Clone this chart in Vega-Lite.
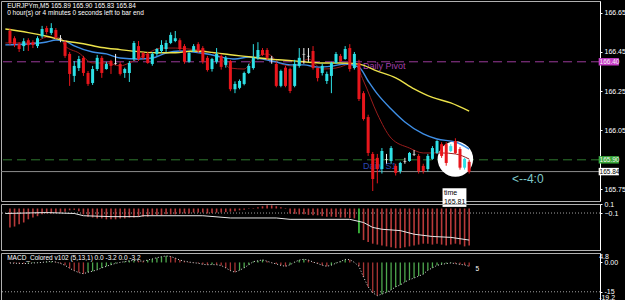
{
"$schema": "https://vega.github.io/schema/vega-lite/v6.json",
"background": "black",
"padding": 0,
"spacing": 3,
"bounds": "flush",
"config": {
  "view": {"stroke": "#b0b0b0", "strokeWidth": 1},
  "axis": {"labelColor": "white", "labelFont": "Liberation Sans", "labelFontSize": 7, "domainColor": "white", "tickColor": "white", "tickSize": 2, "labelPadding": 2, "grid": false},
  "text": {"font": "Liberation Sans"}
},
"datasets": {
  "candles": [
    {"i":0,"o":166.557,"h":166.57,"l":166.485,"c":166.496},
    {"i":1,"o":166.52,"h":166.53,"l":166.475,"c":166.49},
    {"i":2,"o":166.49,"h":166.50,"l":166.45,"c":166.465},
    {"i":3,"o":166.48,"h":166.52,"l":166.455,"c":166.505},
    {"i":4,"o":166.51,"h":166.52,"l":166.455,"c":166.485},
    {"i":5,"o":166.50,"h":166.51,"l":166.47,"c":166.485},
    {"i":6,"o":166.48,"h":166.53,"l":166.47,"c":166.52},
    {"i":7,"o":166.53,"h":166.583,"l":166.52,"c":166.567},
    {"i":8,"o":166.572,"h":166.583,"l":166.54,"c":166.552},
    {"i":9,"o":166.547,"h":166.597,"l":166.537,"c":166.572},
    {"i":10,"o":166.562,"h":166.572,"l":166.516,"c":166.526},
    {"i":11,"o":166.52,"h":166.536,"l":166.50,"c":166.517},
    {"i":12,"o":166.50,"h":166.51,"l":166.42,"c":166.43},
    {"i":13,"o":166.44,"h":166.45,"l":166.277,"c":166.338},
    {"i":14,"o":166.328,"h":166.404,"l":166.297,"c":166.379},
    {"i":15,"o":166.368,"h":166.43,"l":166.353,"c":166.414},
    {"i":16,"o":166.42,"h":166.43,"l":166.328,"c":166.343},
    {"i":17,"o":166.343,"h":166.353,"l":166.277,"c":166.287},
    {"i":18,"o":166.292,"h":166.379,"l":166.282,"c":166.363},
    {"i":19,"o":166.363,"h":166.435,"l":166.353,"c":166.42},
    {"i":20,"o":166.42,"h":166.43,"l":166.318,"c":166.343},
    {"i":21,"o":166.363,"h":166.40,"l":166.36,"c":166.389},
    {"i":22,"o":166.404,"h":166.41,"l":166.338,"c":166.379},
    {"i":23,"o":166.39,"h":166.44,"l":166.385,"c":166.393},
    {"i":24,"o":166.389,"h":166.40,"l":166.33,"c":166.338},
    {"i":25,"o":166.343,"h":166.37,"l":166.318,"c":166.363},
    {"i":26,"o":166.343,"h":166.404,"l":166.297,"c":166.394},
    {"i":27,"o":166.414,"h":166.506,"l":166.404,"c":166.496},
    {"i":28,"o":166.48,"h":166.506,"l":166.404,"c":166.414},
    {"i":29,"o":166.445,"h":166.45,"l":166.41,"c":166.42},
    {"i":30,"o":166.44,"h":166.45,"l":166.39,"c":166.394},
    {"i":31,"o":166.389,"h":166.45,"l":166.38,"c":166.44},
    {"i":32,"o":166.44,"h":166.47,"l":166.43,"c":166.465},
    {"i":33,"o":166.455,"h":166.51,"l":166.445,"c":166.486},
    {"i":34,"o":166.465,"h":166.51,"l":166.45,"c":166.496},
    {"i":35,"o":166.496,"h":166.55,"l":166.49,"c":166.537},
    {"i":36,"o":166.506,"h":166.557,"l":166.50,"c":166.52},
    {"i":37,"o":166.51,"h":166.52,"l":166.455,"c":166.465},
    {"i":38,"o":166.48,"h":166.49,"l":166.39,"c":166.40},
    {"i":39,"o":166.40,"h":166.45,"l":166.395,"c":166.445},
    {"i":40,"o":166.455,"h":166.49,"l":166.45,"c":166.48},
    {"i":41,"o":166.49,"h":166.50,"l":166.445,"c":166.455},
    {"i":42,"o":166.47,"h":166.48,"l":166.39,"c":166.40},
    {"i":43,"o":166.42,"h":166.43,"l":166.35,"c":166.358},
    {"i":44,"o":166.363,"h":166.42,"l":166.35,"c":166.414},
    {"i":45,"o":166.40,"h":166.47,"l":166.39,"c":166.44},
    {"i":46,"o":166.43,"h":166.44,"l":166.36,"c":166.374},
    {"i":47,"o":166.384,"h":166.43,"l":166.37,"c":166.42},
    {"i":48,"o":166.404,"h":166.41,"l":166.25,"c":166.26},
    {"i":49,"o":166.26,"h":166.30,"l":166.24,"c":166.287},
    {"i":50,"o":166.267,"h":166.31,"l":166.26,"c":166.302},
    {"i":51,"o":166.287,"h":166.35,"l":166.28,"c":166.343},
    {"i":52,"o":166.343,"h":166.39,"l":166.338,"c":166.379},
    {"i":53,"o":166.368,"h":166.49,"l":166.36,"c":166.42},
    {"i":54,"o":166.42,"h":166.50,"l":166.41,"c":166.46},
    {"i":55,"o":166.46,"h":166.47,"l":166.43,"c":166.435},
    {"i":56,"o":166.46,"h":166.47,"l":166.41,"c":166.42},
    {"i":57,"o":166.42,"h":166.43,"l":166.39,"c":166.417},
    {"i":58,"o":166.389,"h":166.40,"l":166.27,"c":166.277},
    {"i":59,"o":166.277,"h":166.36,"l":166.27,"c":166.353},
    {"i":60,"o":166.37,"h":166.38,"l":166.27,"c":166.277},
    {"i":61,"o":166.363,"h":166.37,"l":166.24,"c":166.251},
    {"i":62,"o":166.277,"h":166.41,"l":166.27,"c":166.389},
    {"i":63,"o":166.379,"h":166.47,"l":166.37,"c":166.42},
    {"i":64,"o":166.44,"h":166.47,"l":166.39,"c":166.437},
    {"i":65,"o":166.43,"h":166.47,"l":166.40,"c":166.427},
    {"i":66,"o":166.455,"h":166.48,"l":166.36,"c":166.368},
    {"i":67,"o":166.368,"h":166.37,"l":166.30,"c":166.317},
    {"i":68,"o":166.343,"h":166.39,"l":166.33,"c":166.379},
    {"i":69,"o":166.302,"h":166.35,"l":166.287,"c":166.338},
    {"i":70,"o":166.328,"h":166.40,"l":166.24,"c":166.394},
    {"i":71,"o":166.394,"h":166.45,"l":166.39,"c":166.44},
    {"i":72,"o":166.43,"h":166.44,"l":166.40,"c":166.404},
    {"i":73,"o":166.414,"h":166.48,"l":166.41,"c":166.465},
    {"i":74,"o":166.47,"h":166.49,"l":166.35,"c":166.363},
    {"i":75,"o":166.368,"h":166.45,"l":166.36,"c":166.44},
    {"i":76,"o":166.394,"h":166.41,"l":166.20,"c":166.21},
    {"i":77,"o":166.24,"h":166.25,"l":166.10,"c":166.108},
    {"i":78,"o":166.118,"h":166.13,"l":165.92,"c":165.935},
    {"i":79,"o":165.93,"h":165.94,"l":165.741,"c":165.802},
    {"i":80,"o":165.91,"h":165.93,"l":165.78,"c":165.853},
    {"i":81,"o":165.853,"h":165.96,"l":165.83,"c":165.945},
    {"i":82,"o":165.90,"h":165.93,"l":165.88,"c":165.903},
    {"i":83,"o":165.894,"h":165.97,"l":165.88,"c":165.96},
    {"i":84,"o":165.869,"h":165.88,"l":165.82,"c":165.833},
    {"i":85,"o":165.843,"h":165.89,"l":165.83,"c":165.884},
    {"i":86,"o":165.89,"h":165.91,"l":165.88,"c":165.893},
    {"i":87,"o":165.894,"h":165.94,"l":165.89,"c":165.935},
    {"i":88,"o":165.93,"h":165.95,"l":165.92,"c":165.927},
    {"i":89,"o":165.92,"h":165.93,"l":165.83,"c":165.843},
    {"i":90,"o":165.869,"h":165.88,"l":165.83,"c":165.843},
    {"i":91,"o":165.853,"h":165.93,"l":165.84,"c":165.92},
    {"i":92,"o":165.905,"h":165.97,"l":165.90,"c":165.96},
    {"i":93,"o":165.935,"h":166.00,"l":165.93,"c":165.996},
    {"i":94,"o":165.98,"h":165.99,"l":165.91,"c":165.92},
    {"i":95,"o":165.98,"h":165.99,"l":165.87,"c":165.884},
    {"i":96,"o":165.945,"h":165.98,"l":165.94,"c":165.97},
    {"i":97,"o":165.996,"h":166.01,"l":165.93,"c":165.935},
    {"i":98,"o":165.955,"h":165.965,"l":165.85,"c":165.86},
    {"i":99,"o":165.86,"h":165.91,"l":165.85,"c":165.905},
    {"i":100,"o":165.89,"h":165.90,"l":165.83,"c":165.84}
  ],
  "ma": [
    {"k":"slow","i":-1,"p":166.567},{"k":"slow","i":4,"p":166.549},{"k":"slow","i":8,"p":166.530},{"k":"slow","i":12,"p":166.506},{"k":"slow","i":16,"p":166.492},{"k":"slow","i":20,"p":166.473},{"k":"slow","i":24,"p":166.462},{"k":"slow","i":28,"p":166.452},{"k":"slow","i":32,"p":166.446},{"k":"slow","i":36,"p":166.446},{"k":"slow","i":40,"p":166.455},{"k":"slow","i":44,"p":166.448},{"k":"slow","i":48,"p":166.436},{"k":"slow","i":52,"p":166.426},{"k":"slow","i":56,"p":166.415},{"k":"slow","i":60,"p":166.408},{"k":"slow","i":64,"p":166.400},{"k":"slow","i":68,"p":166.394},{"k":"slow","i":72,"p":166.394},{"k":"slow","i":76,"p":166.388},{"k":"slow","i":80,"p":166.352},{"k":"slow","i":84,"p":166.318},{"k":"slow","i":88,"p":166.262},{"k":"slow","i":92,"p":166.218},{"k":"slow","i":96,"p":166.190},{"k":"slow","i":100,"p":166.148},
    {"k":"mid","i":-1,"p":166.486},{"k":"mid","i":4,"p":166.491},{"k":"mid","i":8,"p":166.501},{"k":"mid","i":10,"p":166.511},{"k":"mid","i":12,"p":166.506},{"k":"mid","i":14,"p":166.481},{"k":"mid","i":18,"p":166.450},{"k":"mid","i":21,"p":166.440},{"k":"mid","i":24,"p":166.419},{"k":"mid","i":28,"p":166.414},{"k":"mid","i":31,"p":166.419},{"k":"mid","i":34,"p":166.445},{"k":"mid","i":37,"p":166.455},{"k":"mid","i":40,"p":166.450},{"k":"mid","i":43,"p":166.440},{"k":"mid","i":46,"p":166.424},{"k":"mid","i":49,"p":166.414},{"k":"mid","i":52,"p":166.424},{"k":"mid","i":55,"p":166.414},{"k":"mid","i":58,"p":166.399},{"k":"mid","i":61,"p":166.384},{"k":"mid","i":64,"p":166.384},{"k":"mid","i":67,"p":166.373},{"k":"mid","i":70,"p":166.378},{"k":"mid","i":73,"p":166.389},{"k":"mid","i":76,"p":166.373},{"k":"mid","i":78,"p":166.302},{"k":"mid","i":80,"p":166.236},{"k":"mid","i":83,"p":166.159},{"k":"mid","i":86,"p":166.093},{"k":"mid","i":90,"p":166.032},{"k":"mid","i":93,"p":166.006},{"k":"mid","i":97,"p":165.991},{"k":"mid","i":100,"p":165.955},
    {"k":"fast","i":-1,"p":166.496},{"k":"fast","i":5,"p":166.496},{"k":"fast","i":8,"p":166.526},{"k":"fast","i":11,"p":166.521},{"k":"fast","i":12,"p":166.481},{"k":"fast","i":15,"p":166.445},{"k":"fast","i":18,"p":166.394},{"k":"fast","i":21,"p":166.394},{"k":"fast","i":24,"p":166.379},{"k":"fast","i":26,"p":166.394},{"k":"fast","i":29,"p":166.430},{"k":"fast","i":33,"p":166.470},{"k":"fast","i":36,"p":166.470},{"k":"fast","i":39,"p":166.465},{"k":"fast","i":45,"p":166.440},{"k":"fast","i":48,"p":166.368},{"k":"fast","i":51,"p":166.363},{"k":"fast","i":53,"p":166.414},{"k":"fast","i":56,"p":166.440},{"k":"fast","i":59,"p":166.389},{"k":"fast","i":62,"p":166.378},{"k":"fast","i":65,"p":166.414},{"k":"fast","i":68,"p":166.363},{"k":"fast","i":71,"p":166.368},{"k":"fast","i":75,"p":166.394},{"k":"fast","i":77,"p":166.302},{"k":"fast","i":80,"p":166.134},{"k":"fast","i":83,"p":166.011},{"k":"fast","i":87,"p":165.960},{"k":"fast","i":90,"p":165.935},{"k":"fast","i":94,"p":165.935},{"k":"fast","i":97,"p":165.930},{"k":"fast","i":100,"p":165.904}
  ],
  "osc": [
    {"i":0,"v":-0.42},{"i":1,"v":-0.40},{"i":2,"v":-0.35},{"i":3,"v":-0.31},{"i":4,"v":-0.24},{"i":5,"v":-0.20},{"i":6,"v":-0.17},{"i":7,"v":-0.13},{"i":8,"v":-0.11},{"i":9,"v":-0.11},{"i":10,"v":-0.10},{"i":11,"v":-0.09},{"i":12,"v":-0.07},{"i":13,"v":-0.04},{"i":14,"v":-0.03},{"i":15,"v":-0.06},{"i":16,"v":-0.13},{"i":17,"v":-0.18},{"i":18,"v":-0.20},{"i":19,"v":-0.22},{"i":20,"v":-0.22},{"i":21,"v":-0.24},{"i":22,"v":-0.24},{"i":23,"v":-0.24},{"i":24,"v":-0.22},{"i":25,"v":-0.22},{"i":26,"v":-0.20},{"i":27,"v":-0.20},{"i":28,"v":-0.18},{"i":29,"v":-0.18},{"i":30,"v":-0.18},{"i":31,"v":-0.15},{"i":32,"v":-0.15},{"i":33,"v":-0.15},{"i":34,"v":-0.13},{"i":35,"v":-0.13},{"i":36,"v":-0.13},{"i":37,"v":-0.11},{"i":38,"v":-0.11},{"i":39,"v":-0.11},{"i":40,"v":-0.09},{"i":41,"v":-0.09},{"i":42,"v":-0.09},{"i":43,"v":-0.11},{"i":44,"v":-0.10},{"i":45,"v":-0.09},{"i":46,"v":-0.09},{"i":47,"v":-0.08},{"i":48,"v":-0.07},{"i":49,"v":-0.06},{"i":50,"v":-0.04},{"i":51,"v":-0.03},{"i":52,"v":-0.01},{"i":53,"v":0.01},{"i":54,"v":0.03},{"i":55,"v":0.05},{"i":56,"v":0.07},{"i":57,"v":0.07},{"i":58,"v":0.05},{"i":59,"v":0.03},{"i":60,"v":0.01},{"i":61,"v":-0.11},{"i":62,"v":-0.12},{"i":63,"v":-0.13},{"i":64,"v":-0.13},{"i":65,"v":-0.14},{"i":66,"v":-0.15},{"i":67,"v":-0.15},{"i":68,"v":-0.17},{"i":69,"v":-0.18},{"i":70,"v":-0.18},{"i":71,"v":-0.19},{"i":72,"v":-0.20},{"i":73,"v":-0.20},{"i":74,"v":-0.21},{"i":75,"v":-0.22},{"i":76,"v":-0.55,"sig":"buy"},{"i":77,"v":-0.70},{"i":78,"v":-0.74},{"i":79,"v":-0.78},{"i":80,"v":-0.80},{"i":81,"v":-0.82},{"i":82,"v":-0.84},{"i":83,"v":-0.86},{"i":84,"v":-0.88},{"i":85,"v":-0.88},{"i":86,"v":-0.86},{"i":87,"v":-0.84},{"i":88,"v":-0.82},{"i":89,"v":-0.80},{"i":90,"v":-0.78},{"i":91,"v":-0.78},{"i":92,"v":-0.80},{"i":93,"v":-0.78},{"i":94,"v":-0.80},{"i":95,"v":-0.82},{"i":96,"v":-0.80},{"i":97,"v":-0.78},{"i":98,"v":-0.80},{"i":99,"v":-0.84},{"i":100,"v":-0.82}
  ],
  "oscsig": [
    {"i":-1,"v":-0.11},{"i":8,"v":-0.09},{"i":14,"v":-0.11},{"i":16,"v":-0.16},{"i":22,"v":-0.18},{"i":28,"v":-0.18},{"i":29,"v":-0.16},{"i":42,"v":-0.16},{"i":48,"v":-0.21},{"i":58,"v":-0.21},{"i":61,"v":-0.24},{"i":74,"v":-0.24},{"i":77,"v":-0.31},{"i":79,"v":-0.42},{"i":81,"v":-0.46},{"i":85,"v":-0.49},{"i":88,"v":-0.57},{"i":92,"v":-0.62},{"i":96,"v":-0.64},{"i":100,"v":-0.70}
  ],
  "macd": [
    {"i":0,"m":-0.3,"dir":"down"},{"i":1,"m":-0.4,"dir":"down"},{"i":2,"m":-0.5,"dir":"down"},{"i":3,"m":-0.6,"dir":"down"},{"i":4,"m":-0.5,"dir":"up"},{"i":5,"m":-0.3,"dir":"up"},{"i":6,"m":-0.2,"dir":"up"},{"i":7,"m":0.0,"dir":"up"},{"i":8,"m":0.3,"dir":"up"},{"i":9,"m":0.5,"dir":"up"},{"i":10,"m":0.2,"dir":"down"},{"i":11,"m":-0.5,"dir":"down"},{"i":12,"m":-1.5,"dir":"down"},{"i":13,"m":-3.0,"dir":"down"},{"i":14,"m":-4.2,"dir":"down"},{"i":15,"m":-5.2,"dir":"down"},{"i":16,"m":-5.8,"dir":"down"},{"i":17,"m":-5.0,"dir":"up"},{"i":18,"m":-4.5,"dir":"up"},{"i":19,"m":-3.8,"dir":"up"},{"i":20,"m":-2.8,"dir":"up"},{"i":21,"m":-2.0,"dir":"up"},{"i":22,"m":-1.2,"dir":"up"},{"i":23,"m":-0.5,"dir":"up"},{"i":24,"m":0.0,"dir":"up"},{"i":25,"m":0.4,"dir":"up"},{"i":26,"m":0.8,"dir":"up"},{"i":27,"m":1.0,"dir":"up"},{"i":28,"m":0.8,"dir":"down"},{"i":29,"m":0.6,"dir":"down"},{"i":30,"m":1.2,"dir":"up"},{"i":31,"m":1.8,"dir":"up"},{"i":32,"m":2.4,"dir":"up"},{"i":33,"m":2.9,"dir":"up"},{"i":34,"m":3.3,"dir":"up"},{"i":35,"m":3.0,"dir":"down"},{"i":36,"m":2.2,"dir":"down"},{"i":37,"m":1.2,"dir":"down"},{"i":38,"m":0.6,"dir":"down"},{"i":39,"m":0.2,"dir":"down"},{"i":40,"m":-0.2,"dir":"down"},{"i":41,"m":-0.4,"dir":"down"},{"i":42,"m":-1.0,"dir":"down"},{"i":43,"m":-1.2,"dir":"down"},{"i":44,"m":-1.1,"dir":"up"},{"i":45,"m":-1.2,"dir":"down"},{"i":46,"m":-1.6,"dir":"down"},{"i":47,"m":-2.8,"dir":"down"},{"i":48,"m":-4.2,"dir":"down"},{"i":49,"m":-5.0,"dir":"down"},{"i":50,"m":-4.0,"dir":"up"},{"i":51,"m":-2.8,"dir":"up"},{"i":52,"m":-1.2,"dir":"up"},{"i":53,"m":0.4,"dir":"up"},{"i":54,"m":0.8,"dir":"up"},{"i":55,"m":1.3,"dir":"up"},{"i":56,"m":0.6,"dir":"down"},{"i":57,"m":-0.2,"dir":"down"},{"i":58,"m":-0.8,"dir":"down"},{"i":59,"m":-1.5,"dir":"down"},{"i":60,"m":-2.0,"dir":"down"},{"i":61,"m":-1.2,"dir":"up"},{"i":62,"m":0.2,"dir":"up"},{"i":63,"m":1.2,"dir":"up"},{"i":64,"m":1.6,"dir":"up"},{"i":65,"m":1.2,"dir":"down"},{"i":66,"m":0.2,"dir":"down"},{"i":67,"m":-0.6,"dir":"down"},{"i":68,"m":-1.4,"dir":"down"},{"i":69,"m":-2.0,"dir":"down"},{"i":70,"m":-1.4,"dir":"up"},{"i":71,"m":-0.4,"dir":"up"},{"i":72,"m":0.5,"dir":"up"},{"i":73,"m":1.5,"dir":"up"},{"i":74,"m":1.4,"dir":"down"},{"i":75,"m":0.0,"dir":"down"},{"i":76,"m":-2.0,"dir":"down"},{"i":77,"m":-7.5,"dir":"down"},{"i":78,"m":-12.5,"dir":"down"},{"i":79,"m":-15.5,"dir":"down"},{"i":80,"m":-17.0,"dir":"down"},{"i":81,"m":-16.2,"dir":"up"},{"i":82,"m":-15.3,"dir":"up"},{"i":83,"m":-14.0,"dir":"up"},{"i":84,"m":-12.5,"dir":"up"},{"i":85,"m":-11.5,"dir":"up"},{"i":86,"m":-10.0,"dir":"up"},{"i":87,"m":-8.8,"dir":"up"},{"i":88,"m":-8.0,"dir":"up"},{"i":89,"m":-7.0,"dir":"up"},{"i":90,"m":-6.0,"dir":"up"},{"i":91,"m":-4.0,"dir":"up"},{"i":92,"m":-2.8,"dir":"up"},{"i":93,"m":-1.5,"dir":"up"},{"i":94,"m":-1.0,"dir":"up"},{"i":95,"m":-0.6,"dir":"up"},{"i":96,"m":-0.3,"dir":"up"},{"i":97,"m":-0.6,"dir":"down"},{"i":98,"m":-1.0,"dir":"down"},{"i":99,"m":-1.3,"dir":"down"},{"i":100,"m":-2.0,"dir":"down"}
  ]
},
"vconcat": [
  {
    "width": 599, "height": 200,
    "layer": [
      {
        "data": {"values": [{"p": 166.40}]},
        "mark": {"type": "rule", "color": "#9a3a9a", "strokeDash": [9, 5], "strokeWidth": 1},
        "encoding": {"y": {"field": "p", "type": "quantitative", "title": null, "scale": {"domain": [165.69, 166.71], "nice": false, "zero": false},
          "axis": {"orient": "right", "values": [166.65, 166.55, 166.45, 166.35, 166.25, 166.15, 166.05, 165.95, 165.75], "format": ".2f"}}}
      },
      {
        "data": {"values": [{"p": 165.90}]},
        "mark": {"type": "rule", "color": "#2f7a2f", "strokeDash": [9, 5], "strokeWidth": 1},
        "encoding": {"y": {"field": "p", "type": "quantitative", "title": null}}
      },
      {
        "data": {"values": [{"p": 165.84}]},
        "mark": {"type": "rule", "color": "#8c8c8c", "strokeWidth": 1},
        "encoding": {"y": {"field": "p", "type": "quantitative", "title": null}}
      },
      {
        "data": {"values": [{"i": 97, "p": 165.904}]},
        "mark": {"type": "point", "shape": "circle", "filled": true, "color": "white", "opacity": 1, "size": 1260},
        "encoding": {"x": {"field": "i", "type": "quantitative", "scale": {"domain": [-0.86, 127.4], "nice": false, "zero": false}, "axis": null}, "y": {"field": "p", "type": "quantitative", "title": null}}
      },
      {
        "data": {"values": [{"i": 76.9, "p": 166.378, "t": "Daily Pivot"}]},
        "mark": {"type": "text", "align": "left", "baseline": "middle", "fontSize": 9, "color": "#a23fa8"},
        "encoding": {"x": {"field": "i", "type": "quantitative", "axis": null}, "y": {"field": "p", "type": "quantitative", "title": null}, "text": {"field": "t"}}
      },
      {
        "data": {"values": [{"i": 76.9, "p": 165.868, "t": "Daily S1"}]},
        "mark": {"type": "text", "align": "left", "baseline": "middle", "fontSize": 9, "color": "#2a46b0"},
        "encoding": {"x": {"field": "i", "type": "quantitative", "axis": null}, "y": {"field": "p", "type": "quantitative", "title": null}, "text": {"field": "t"}}
      },
      {
        "data": {"name": "ma"},
        "transform": [{"filter": "datum.k == 'fast'"}],
        "mark": {"type": "line", "strokeWidth": 1, "interpolate": "monotone", "color": "#9a1c1c"},
        "encoding": {"x": {"field": "i", "type": "quantitative", "axis": null}, "y": {"field": "p", "type": "quantitative", "title": null}}
      },
      {
        "data": {"name": "ma"},
        "transform": [{"filter": "datum.k == 'mid'"}],
        "mark": {"type": "line", "strokeWidth": 1.4, "interpolate": "monotone", "color": "#3f8fe6"},
        "encoding": {"x": {"field": "i", "type": "quantitative", "axis": null}, "y": {"field": "p", "type": "quantitative", "title": null}}
      },
      {
        "data": {"name": "ma"},
        "transform": [{"filter": "datum.k == 'slow'"}],
        "mark": {"type": "line", "strokeWidth": 1.4, "interpolate": "monotone", "color": "#ece24a"},
        "encoding": {"x": {"field": "i", "type": "quantitative", "axis": null}, "y": {"field": "p", "type": "quantitative", "title": null}}
      },
      {
        "data": {"name": "candles"},
        "mark": {"type": "rule", "strokeWidth": 1},
        "encoding": {"x": {"field": "i", "type": "quantitative", "axis": null}, "y": {"field": "l", "type": "quantitative", "title": null}, "y2": {"field": "h"},
          "color": {"condition": [{"test": "abs(datum.c - datum.o) < 0.004", "value": "#f0f0f0"}, {"test": "datum.c > datum.o", "value": "#2ee0e6"}], "value": "#e8161c"}}
      },
      {
        "data": {"name": "candles"},
        "mark": {"type": "bar", "size": 3},
        "encoding": {"x": {"field": "i", "type": "quantitative", "axis": null}, "y": {"field": "o", "type": "quantitative", "title": null}, "y2": {"field": "c"},
          "color": {"condition": [{"test": "abs(datum.c - datum.o) < 0.004", "value": "#f0f0f0"}, {"test": "datum.c > datum.o", "value": "#2ee0e6"}], "value": "#e8161c"}}
      },
      {
        "data": {"values": [{"i": -0.6, "p": 166.686, "t": "EURJPYm,M5  165.89 165.90 165.83 165.84"}, {"i": -0.6, "p": 166.650, "t": "0 hour(s) or 4 minutes 0 seconds left to bar end"}]},
        "mark": {"type": "text", "align": "left", "baseline": "middle", "fontSize": 6.5, "color": "white"},
        "encoding": {"x": {"field": "i", "type": "quantitative", "axis": null}, "y": {"field": "p", "type": "quantitative", "title": null}, "text": {"field": "t"}}
      },
      {
        "data": {"values": [{"i": 109.3, "p": 165.802, "t": "<--4:0"}]},
        "mark": {"type": "text", "align": "left", "baseline": "middle", "fontSize": 12, "color": "#7fcaca"},
        "encoding": {"x": {"field": "i", "type": "quantitative", "axis": null}, "y": {"field": "p", "type": "quantitative", "title": null}, "text": {"field": "t"}}
      },
      {
        "data": {"values": [{"a": 94.2, "b": 99.4, "p1": 165.755, "p2": 165.66}]},
        "mark": {"type": "rect", "color": "white"},
        "encoding": {"x": {"field": "a", "type": "quantitative", "axis": null}, "x2": {"field": "b"}, "y": {"field": "p1", "type": "quantitative", "title": null}, "y2": {"field": "p2"}}
      },
      {
        "data": {"values": [{"i": 94.5, "p": 165.733, "t": "time"}, {"i": 94.5, "p": 165.687, "t": "165.81"}]},
        "mark": {"type": "text", "align": "left", "baseline": "middle", "fontSize": 7, "color": "black"},
        "encoding": {"x": {"field": "i", "type": "quantitative", "axis": null}, "y": {"field": "p", "type": "quantitative", "title": null}, "text": {"field": "t"}}
      },
      {
        "data": {"values": [{"a": 128.2, "b": 132.6, "p1": 166.419, "p2": 166.381}]},
        "mark": {"type": "rect", "color": "#c83cc8"},
        "encoding": {"x": {"field": "a", "type": "quantitative", "axis": null}, "x2": {"field": "b"}, "y": {"field": "p1", "type": "quantitative", "title": null}, "y2": {"field": "p2"}}
      },
      {
        "data": {"values": [{"a": 128.2, "b": 132.6, "p1": 165.919, "p2": 165.881}]},
        "mark": {"type": "rect", "color": "#3aa83a"},
        "encoding": {"x": {"field": "a", "type": "quantitative", "axis": null}, "x2": {"field": "b"}, "y": {"field": "p1", "type": "quantitative", "title": null}, "y2": {"field": "p2"}}
      },
      {
        "data": {"values": [{"a": 128.2, "b": 132.6, "p1": 165.859, "p2": 165.821}]},
        "mark": {"type": "rect", "color": "#ffffff"},
        "encoding": {"x": {"field": "a", "type": "quantitative", "axis": null}, "x2": {"field": "b"}, "y": {"field": "p1", "type": "quantitative", "title": null}, "y2": {"field": "p2"}}
      },
      {
        "data": {"values": [{"i": 128.4, "p": 166.40, "t": "166.40"}, {"i": 128.4, "p": 165.90, "t": "165.90"}]},
        "mark": {"type": "text", "align": "left", "baseline": "middle", "fontSize": 6.5, "color": "#f4f4f4"},
        "encoding": {"x": {"field": "i", "type": "quantitative", "axis": null}, "y": {"field": "p", "type": "quantitative", "title": null}, "text": {"field": "t"}}
      },
      {
        "data": {"values": [{"i": 128.4, "p": 165.84, "t": "165.84"}]},
        "mark": {"type": "text", "align": "left", "baseline": "middle", "fontSize": 6.5, "color": "#000000"},
        "encoding": {"x": {"field": "i", "type": "quantitative", "axis": null}, "y": {"field": "p", "type": "quantitative", "title": null}, "text": {"field": "t"}}
      }
    ]
  },
  {
    "width": 599, "height": 46,
    "layer": [
      {
        "data": {"values": [{"v": -0.1}]},
        "mark": {"type": "rule", "color": "#a0a0a0", "strokeDash": [1, 2]},
        "encoding": {"y": {"field": "v", "type": "quantitative", "title": null, "scale": {"domain": [-0.92, 0.1], "nice": false, "zero": false},
          "axis": {"orient": "right", "values": [0.1, -0.1], "labelFlush": false}}}
      },
      {
        "data": {"name": "osc"},
        "mark": {"type": "bar", "size": 1.6},
        "encoding": {"x": {"field": "i", "type": "quantitative", "scale": {"domain": [-0.86, 127.4], "nice": false, "zero": false}, "axis": null},
          "y": {"field": "v", "type": "quantitative", "title": null}, "y2": {"datum": 0},
          "color": {"condition": {"test": "datum.sig == 'buy'", "value": "#44d044"}, "value": "#b83a3a"}}
      },
      {
        "data": {"name": "oscsig"},
        "mark": {"type": "line", "color": "#e8e8e8", "strokeWidth": 1},
        "encoding": {"x": {"field": "i", "type": "quantitative", "axis": null}, "y": {"field": "v", "type": "quantitative", "title": null}}
      }
    ]
  },
  {
    "width": 599, "height": 47,
    "layer": [
      {
        "data": {"values": [{"m": -15}]},
        "mark": {"type": "rule", "color": "#a0a0a0", "strokeDash": [1, 2]},
        "encoding": {"y": {"field": "m", "type": "quantitative", "title": null, "scale": {"domain": [-19.2, 4.8], "nice": false, "zero": false},
          "axis": {"orient": "right", "values": [0, -15], "labelFlush": false, "labelExpr": "datum.value == 0 ? '0.00' : '-15'"}}}
      },
      {
        "data": {"name": "macd"},
        "mark": {"type": "bar", "size": 1.3},
        "encoding": {"x": {"field": "i", "type": "quantitative", "scale": {"domain": [-0.86, 127.4], "nice": false, "zero": false}, "axis": null},
          "y": {"field": "m", "type": "quantitative", "title": null}, "y2": {"datum": 0},
          "color": {"condition": {"test": "datum.dir == 'up'", "value": "#4ea84e"}, "value": "#a83434"}}
      },
      {
        "data": {"name": "macd"},
        "mark": {"type": "line", "color": "#e0e0e0", "strokeWidth": 1, "strokeDash": [1, 2]},
        "encoding": {"x": {"field": "i", "type": "quantitative", "axis": null}, "y": {"field": "m", "type": "quantitative", "title": null}}
      },
      {
        "data": {"values": [{"i": -0.6, "m": 2.4, "t": "MACD_Colored v102 (5,13,1) 0.0 -3.2 0.0 -3.2"}, {"i": 101.4, "m": -3.5, "t": "5"}]},
        "mark": {"type": "text", "align": "left", "baseline": "middle", "fontSize": 6.5, "color": "white"},
        "encoding": {"x": {"field": "i", "type": "quantitative", "axis": null}, "y": {"field": "m", "type": "quantitative", "title": null}, "text": {"field": "t"}}
      },
      {
        "data": {"values": [{"i": 128.3, "m": 3.0, "t": "4.8"}, {"i": 128.3, "m": -18.2, "t": "-19.2"}]},
        "mark": {"type": "text", "align": "left", "baseline": "middle", "fontSize": 7, "color": "white"},
        "encoding": {"x": {"field": "i", "type": "quantitative", "axis": null}, "y": {"field": "m", "type": "quantitative", "title": null}, "text": {"field": "t"}}
      }
    ]
  }
]
}
